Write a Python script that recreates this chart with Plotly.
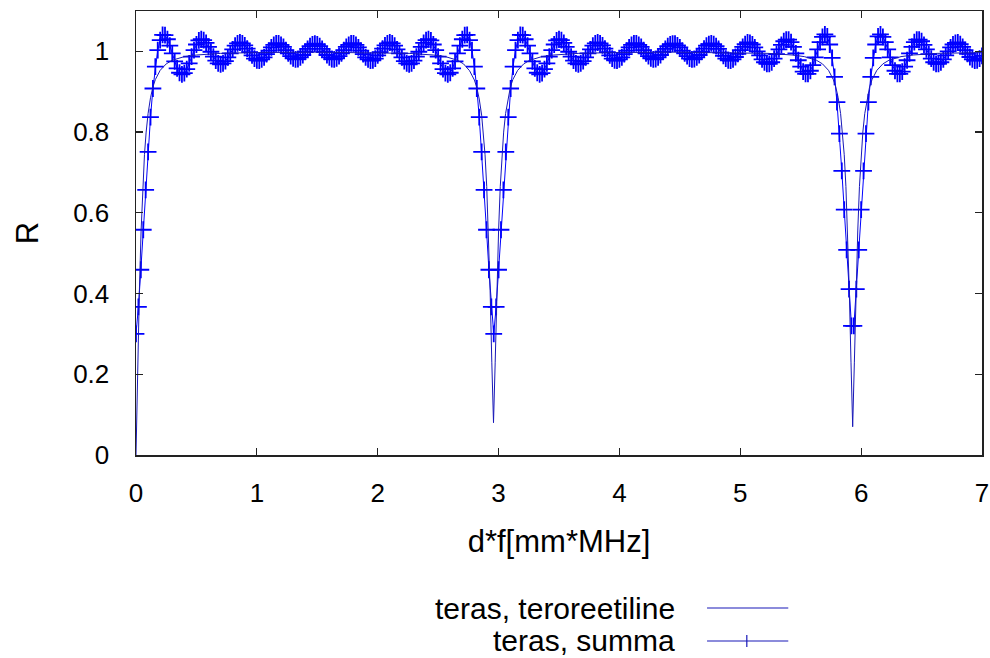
import plotly.graph_objects as go

# ---------------- data ----------------
# "teras, summa": R sampled every 0.02 in d*f from 0 to 7
summa_step = 0.02
summa_r = [
    0.300, 0.367, 0.459, 0.558, 0.657, 0.751, 0.837, 0.908, 0.962, 1.003,
    1.028, 1.041, 1.040, 1.030, 1.014, 0.995, 0.975, 0.958, 0.947, 0.943,
    0.946, 0.956, 0.970, 0.987, 1.003, 1.017, 1.027, 1.030, 1.028, 1.021,
    1.011, 0.999, 0.987, 0.977, 0.970, 0.968, 0.970, 0.976, 0.985, 0.995,
    1.005, 1.014, 1.020, 1.022, 1.020, 1.015, 1.007, 0.998, 0.990, 0.982,
    0.978, 0.977, 0.980, 0.985, 0.993, 1.002, 1.010, 1.016, 1.020, 1.020,
    1.016, 1.011, 1.003, 0.995, 0.988, 0.983, 0.980, 0.981, 0.985, 0.991,
    0.999, 1.006, 1.013, 1.017, 1.019,
    1.017, 1.013, 1.006, 0.999, 0.991, 0.985, 0.981, 0.980, 0.983, 0.988,
    0.995, 1.003, 1.011, 1.016, 1.020, 1.020, 1.016, 1.010, 1.002, 0.993,
    0.985, 0.980, 0.977, 0.978, 0.982, 0.990, 0.998, 1.007, 1.015, 1.020,
    1.022, 1.020, 1.014, 1.005, 0.995, 0.985, 0.976, 0.970, 0.968, 0.970,
    0.977, 0.987, 0.999, 1.011, 1.021, 1.028, 1.030, 1.027, 1.017, 1.003,
    0.987, 0.970, 0.956, 0.946, 0.943, 0.947, 0.958, 0.975, 0.995, 1.014,
    1.030, 1.040, 1.041, 1.028, 1.003, 0.962, 0.908, 0.837, 0.751, 0.657,
    0.558, 0.459, 0.367, 0.300,
    0.367, 0.459, 0.558, 0.657, 0.751, 0.837, 0.908, 0.962, 1.003, 1.028,
    1.041, 1.040, 1.030, 1.014, 0.995, 0.975, 0.958, 0.947, 0.943, 0.946,
    0.956, 0.970, 0.987, 1.003, 1.017, 1.027, 1.030, 1.028, 1.021, 1.011,
    0.999, 0.987, 0.977, 0.970, 0.968, 0.970, 0.976, 0.985, 0.995, 1.005,
    1.014, 1.020, 1.022, 1.020, 1.015, 1.007, 0.998, 0.990, 0.982, 0.978,
    0.977, 0.980, 0.985, 0.993, 1.002, 1.010, 1.016, 1.020, 1.020, 1.016,
    1.011, 1.003, 0.995, 0.988, 0.983, 0.980, 0.981, 0.985, 0.991, 0.999,
    1.006, 1.013, 1.017, 1.019,
    1.019, 1.015, 1.010, 1.002, 0.995, 0.988, 0.982, 0.980, 0.981, 0.985,
    0.991, 0.999, 1.007, 1.014, 1.018, 1.020, 1.018, 1.013, 1.006, 0.997,
    0.989, 0.982, 0.978, 0.977, 0.980, 0.986, 0.994, 1.003, 1.011, 1.018,
    1.022, 1.021, 1.017, 1.010, 1.000, 0.990, 0.980, 0.973, 0.969, 0.969,
    0.973, 0.982, 0.993, 1.005, 1.016, 1.025, 1.029, 1.029, 1.023, 1.011,
    0.995, 0.978, 0.962, 0.950, 0.944, 0.944, 0.952, 0.966, 0.985, 1.005,
    1.023, 1.036, 1.042, 1.037, 1.017, 0.984, 0.937, 0.874, 0.796, 0.704,
    0.608, 0.508, 0.411, 0.320,
    0.320, 0.411, 0.508, 0.608, 0.704, 0.796, 0.874, 0.937, 0.984, 1.017,
    1.037, 1.042, 1.036, 1.023, 1.005, 0.985, 0.966, 0.952, 0.944, 0.944,
    0.950, 0.962, 0.978, 0.995, 1.011, 1.023, 1.029, 1.029, 1.025, 1.016,
    1.005, 0.993, 0.982, 0.973, 0.969, 0.969, 0.973, 0.980, 0.990, 1.000,
    1.010, 1.017, 1.021, 1.022, 1.018, 1.011, 1.003, 0.994, 0.986, 0.980,
    0.977, 0.978, 0.982, 0.989,
]
summa_x = [round(i * summa_step, 3) for i in range(len(summa_r))]

# "teras, teroreetiline": theoretical curve
theory_x = [
    0.0, 0.014, 0.028, 0.042, 0.056, 0.07, 0.084, 0.1, 0.12, 0.14, 0.16, 0.2,
    0.25, 0.3, 0.4, 0.5, 0.7, 1.0, 1.48,
    1.96, 2.26, 2.46, 2.56, 2.66, 2.71, 2.76, 2.80, 2.82, 2.84, 2.86, 2.874,
    2.888, 2.902, 2.916, 2.930, 2.944, 2.958, 2.972, 2.986, 3.000, 3.014,
    3.028, 3.042, 3.058, 3.078, 3.098, 3.118, 3.158, 3.208, 3.258, 3.358,
    3.458, 3.658, 3.958, 4.444,
    4.93, 5.23, 5.43, 5.53, 5.63, 5.68, 5.73, 5.77, 5.79, 5.81, 5.83, 5.846,
    5.860, 5.874, 5.888, 5.902, 5.916, 5.930, 5.944, 5.958, 5.972, 5.986,
    6.000, 6.014, 6.030, 6.050, 6.070, 6.090, 6.130, 6.180, 6.230, 6.330,
    6.430, 6.630, 6.930, 7.0,
]
theory_r = [
    0.0, 0.217, 0.407, 0.555, 0.665, 0.744, 0.800, 0.846, 0.885, 0.912, 0.930, 0.953,
    0.969, 0.978, 0.987, 0.991, 0.995, 0.997, 0.998,
    0.997, 0.995, 0.991, 0.987, 0.978, 0.969, 0.952, 0.929, 0.910, 0.882, 0.842, 0.800,
    0.744, 0.665, 0.555, 0.407, 0.230, 0.080, 0.230, 0.407, 0.555, 0.665,
    0.744, 0.800, 0.846, 0.885, 0.912, 0.930, 0.953, 0.969, 0.978, 0.987,
    0.991, 0.995, 0.997, 0.998,
    0.997, 0.995, 0.991, 0.987, 0.978, 0.969, 0.953, 0.930, 0.912, 0.885, 0.846, 0.800,
    0.744, 0.665, 0.555, 0.407, 0.230, 0.070, 0.230, 0.407, 0.555, 0.665,
    0.744, 0.800, 0.846, 0.885, 0.912, 0.930, 0.953, 0.969, 0.978, 0.987,
    0.991, 0.995, 0.997, 0.997,
]

x_ticks = [0, 1, 2, 3, 4, 5, 6, 7]
y_ticks = [0, 0.2, 0.4, 0.6, 0.8, 1.0]
y_tick_labels = ["0", "0.2", "0.4", "0.6", "0.8", "1"]
series_names = ["teras, teroreetiline", "teras, summa"]

# ---------------- figure ----------------
FONT = "Liberation Sans, Arial, sans-serif"
TICK_FS = 26
LABEL_FS = 31
KEY_FS = 30
LINE_BLUE = "#1818b8"
MARK_BLUE = "#0000ff"

fig = go.Figure()
fig.add_trace(go.Scatter(
    x=summa_x, y=summa_r, mode="lines+markers", name=series_names[1],
    line=dict(color=MARK_BLUE, width=1),
    marker=dict(symbol="cross-thin", size=12,
                line=dict(width=1.8, color=MARK_BLUE)),
    showlegend=False,
))
fig.add_trace(go.Scatter(
    x=theory_x, y=theory_r, mode="lines", name=series_names[0],
    line=dict(color=LINE_BLUE, width=1),
    showlegend=False,
))

axis_common = dict(
    showline=True, linecolor="#222222", linewidth=1.5, mirror="allticks",
    ticks="inside", ticklen=7, tickwidth=1.2, tickcolor="#222222",
    showgrid=False, zeroline=False,
    tickfont=dict(family=FONT, size=TICK_FS, color="black"),
    automargin=False,
)
fig.update_xaxes(
    range=[0, 7], tickvals=x_ticks, ticklabelstandoff=14,
    title=dict(text="d*f[mm*MHz]", font=dict(family=FONT, size=LABEL_FS, color="black"),
               standoff=23),
    **axis_common,
)
fig.update_yaxes(
    range=[0, 1.1], tickvals=y_ticks, ticktext=y_tick_labels, ticklabelstandoff=20,
    title=dict(text="R", font=dict(family=FONT, size=LABEL_FS, color="black"),
               standoff=25),
    **axis_common,
)

# gnuplot-style key (text on the left, sample on the right), below the plot
key_rows = [-0.3446, -0.4189]
for name, yk in zip(series_names, key_rows):
    fig.add_annotation(
        xref="paper", yref="paper", x=0.6395, y=yk, text=name, showarrow=False,
        xanchor="right", yanchor="middle",
        font=dict(family=FONT, size=KEY_FS, color="black"),
    )
    fig.add_shape(type="line", xref="paper", yref="paper",
                  x0=0.675, x1=0.771, y0=yk, y1=yk,
                  line=dict(color=LINE_BLUE, width=1.2))
fig.add_shape(type="line", xref="paper", yref="paper",
              x0=0.722, x1=0.722, y0=key_rows[1] - 0.0135, y1=key_rows[1] + 0.0135,
              line=dict(color=LINE_BLUE, width=1.2))

fig.update_layout(
    width=990, height=658,
    margin=dict(l=136, r=8, t=11, b=203, pad=0),
    paper_bgcolor="white", plot_bgcolor="white",
    font=dict(family=FONT, size=TICK_FS, color="black"),
    showlegend=False,
)

# remove the default page margin so the 990x658 figure fills the window exactly
fig.write_html(
    "out.html",
    config={"displayModeBar": False, "staticPlot": True},
    post_script="document.body.style.margin='0';document.body.style.overflow='hidden';",
)
